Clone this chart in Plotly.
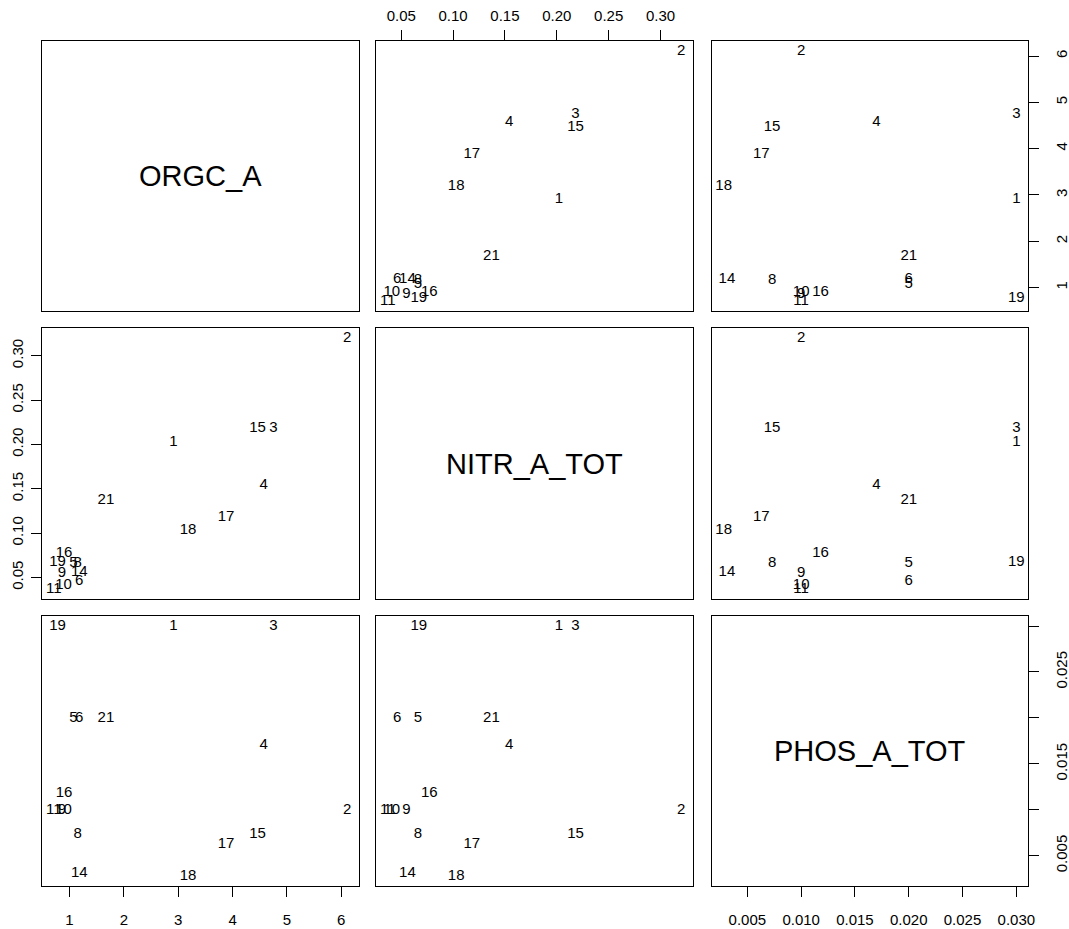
import plotly.graph_objects as go

# ---- data ----
point_labels = ["1", "2", "3", "4", "5", "6", "8", "9", "10", "11",
                "14", "15", "16", "17", "18", "19", "21"]
orgc_a = [2.91, 6.11, 4.75, 4.57, 1.07, 1.18, 1.15, 0.86, 0.89, 0.71,
          1.18, 4.46, 0.90, 3.88, 3.18, 0.78, 1.67]
nitr_a_tot = [0.202, 0.320, 0.218, 0.154, 0.066, 0.046, 0.066, 0.055, 0.041, 0.037,
              0.056, 0.218, 0.077, 0.118, 0.103, 0.067, 0.137]
phos_a_tot = [0.030, 0.010, 0.030, 0.017, 0.020, 0.020, 0.0073, 0.010, 0.010, 0.010,
              0.0031, 0.0073, 0.0118, 0.0063, 0.0028, 0.030, 0.020]
var_names = ["ORGC_A", "NITR_A_TOT", "PHOS_A_TOT"]

orgc_ticks = [1, 2, 3, 4, 5, 6]
orgc_ticktext = ["1", "2", "3", "4", "5", "6"]
nitr_ticks = [0.05, 0.10, 0.15, 0.20, 0.25, 0.30]
nitr_ticktext = ["0.05", "0.10", "0.15", "0.20", "0.25", "0.30"]
phos_ticks = [0.005, 0.010, 0.015, 0.020, 0.025, 0.030]
phos_ticktext = ["0.005", "0.010", "0.015", "0.020", "0.025", "0.030"]
phos_ticktext_right = ["0.005", "", "0.015", "", "0.025", ""]

variables = [orgc_a, nitr_a_tot, phos_a_tot]
tickvals = [orgc_ticks, nitr_ticks, phos_ticks]
ticktexts = [orgc_ticktext, nitr_ticktext, phos_ticktext]

# ---- layout geometry (pixels) ----
W, H = 1069, 929
col_px = [(42, 359), (376, 693), (712, 1028)]
row_px = [(41, 311), (328, 599), (616, 886)]

FONT = "Liberation Sans, Arial, Helvetica, sans-serif"


def rng(v):
    lo, hi = min(v), max(v)
    d = hi - lo
    return [lo - 0.04 * d, hi + 0.04 * d]


fig = go.Figure()
layout = dict(
    width=W, height=H, autosize=False,
    margin=dict(l=0, r=0, t=0, b=0, pad=0, autoexpand=False),
    paper_bgcolor="white", plot_bgcolor="white",
    showlegend=False,
    font=dict(family=FONT, size=15, color="black"),
)
annotations = []

for i in range(3):
    for j in range(3):
        k = i * 3 + j + 1
        xa = "xaxis" if k == 1 else f"xaxis{k}"
        ya = "yaxis" if k == 1 else f"yaxis{k}"
        xr = "x" if k == 1 else f"x{k}"
        yr = "y" if k == 1 else f"y{k}"
        x0, x1 = col_px[j]
        y0, y1 = row_px[i]
        xdom = [x0 / W, x1 / W]
        ydom = [1 - y1 / H, 1 - y0 / H]

        xax = dict(domain=xdom, anchor=yr, range=rng(variables[j]), automargin=False,
                   showgrid=False, zeroline=False, showline=True, mirror=True,
                   linecolor="black", linewidth=1, ticks="", showticklabels=False,
                   tickvals=tickvals[j], ticktext=ticktexts[j],
                   tickfont=dict(family=FONT, size=15, color="black"))
        yax = dict(domain=ydom, anchor=xr, range=rng(variables[i]), automargin=False,
                   showgrid=False, zeroline=False, showline=True, mirror=True,
                   linecolor="black", linewidth=1, ticks="", showticklabels=False,
                   tickvals=tickvals[i], ticktext=ticktexts[i],
                   tickfont=dict(family=FONT, size=15, color="black"))

        # x axes: top on column 2 (row 1), bottom on columns 1 and 3 (row 3)
        if (i == 0 and j == 1):
            xax.update(side="top", ticks="outside", ticklen=10, tickcolor="black",
                       showticklabels=True, ticklabelstandoff=3)
        if (i == 2 and j in (0, 2)):
            xax.update(side="bottom", ticks="outside", ticklen=10, tickcolor="black",
                       showticklabels=True, ticklabelstandoff=10)
        # y axes: left on row 2 (col 1), right on rows 1 and 3 (col 3)
        if (i == 1 and j == 0):
            yax.update(side="left", ticks="outside", ticklen=10, tickcolor="black",
                       showticklabels=True, tickangle=-90, ticklabelstandoff=2)
        if (i in (0, 2) and j == 2):
            yax.update(side="right", ticks="outside", ticklen=10, tickcolor="black",
                       showticklabels=True, tickangle=-90, ticklabelstandoff=10)
            if i == 2:
                yax.update(ticktext=phos_ticktext_right)

        layout[xa] = xax
        layout[ya] = yax

        if i == j:
            # invisible trace so the diagonal panel's box is drawn
            fig.add_trace(go.Scatter(
                x=[None], y=[None], mode="markers", xaxis=xr, yaxis=yr,
                hoverinfo="skip", showlegend=False))
            annotations.append(dict(
                text=var_names[i], x=0.5, y=0.5,
                xref=f"{xr} domain", yref=f"{yr} domain",
                showarrow=False, font=dict(family=FONT, size=29, color="black"),
                xanchor="center", yanchor="middle"))
        else:
            fig.add_trace(go.Scatter(
                x=variables[j], y=variables[i], text=point_labels,
                mode="text", textposition="middle center",
                textfont=dict(family=FONT, size=15, color="black"),
                xaxis=xr, yaxis=yr, hoverinfo="skip", cliponaxis=False))

layout["annotations"] = annotations
fig.update_layout(**layout)
fig.write_html("out.html", config={"responsive": False})
